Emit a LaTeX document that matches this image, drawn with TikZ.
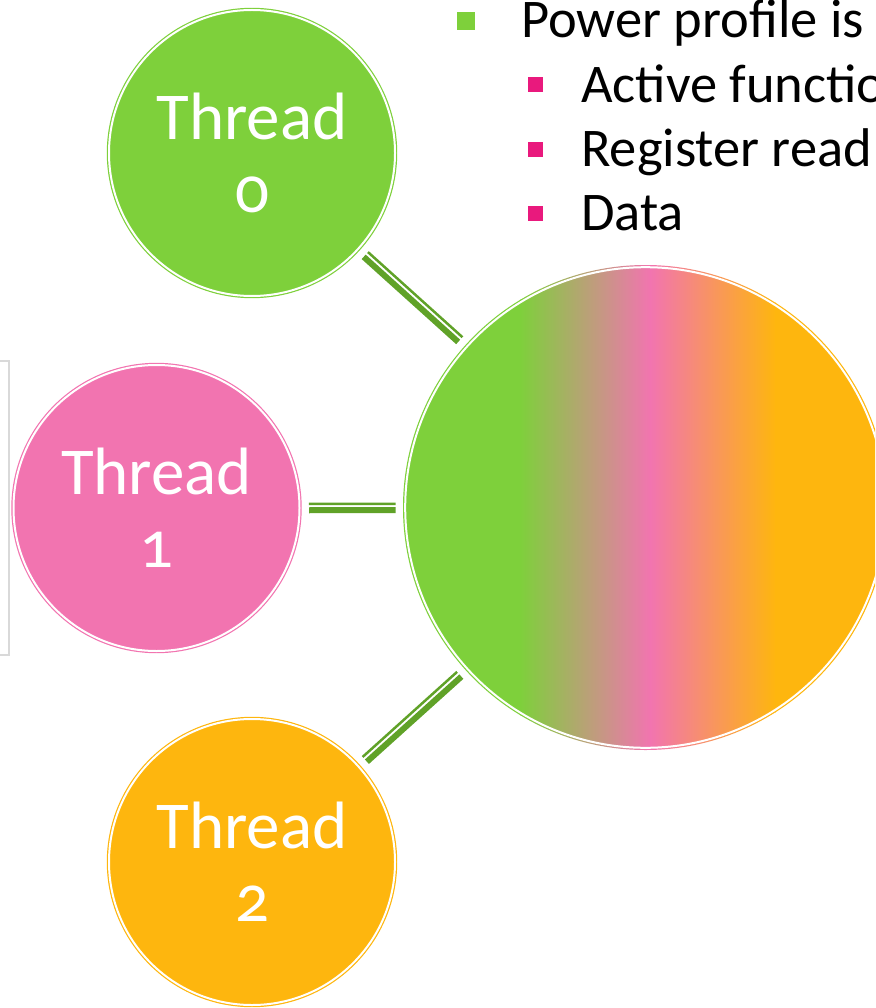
\documentclass[tikz,border=0pt]{standalone}
\usepackage{fontspec}
\setmainfont[Numbers=OldStyle]{Carlito}
\usetikzlibrary{calc}
\definecolor{tgreen}{RGB}{126,208,59}
\definecolor{tpink}{RGB}{242,116,176}
\definecolor{torange}{RGB}{254,182,14}
\definecolor{cgreen}{RGB}{96,162,40}
\definecolor{bpink}{RGB}{233,25,125}
\definecolor{boxgray}{RGB}{217,217,217}
\begin{document}
\begin{tikzpicture}[x=1pt,y=-1pt,
  threadc/.style={circle, inner sep=0pt, minimum size=286pt, fill=#1, draw=#1,
    line width=1.2pt, double=white, double distance=2pt, text=white, align=center,
    font=\fontsize{67}{73}\selectfont},
  thinline/.style={cgreen, line width=2.5pt},
  thickline/.style={cgreen, line width=6pt},
  bigtext/.style={font=\fontsize{54.5}{60}\selectfont, anchor=base west, inner sep=0pt},
]
\useasboundingbox (0,0) rectangle (875,1008);
\clip (0,0) rectangle (875,1008);

% light gray box at the left edge
\draw[boxgray, line width=1.5pt] (-5,361) -- (9,361) -- (9,655) -- (-5,655);

% big shaded circle
\coordinate (cc) at (645.5,507.5);
\begin{scope}
  \clip (cc) circle (242.5pt);
  \fill[tgreen] (400,260) rectangle (521,760);
  \shade[left color=tgreen, right color=tpink] (520,260) rectangle (651,760);
  \shade[left color=tpink, right color=torange] (650,260) rectangle (776,760);
  \fill[torange] (775,260) rectangle (895,760);
\end{scope}
\draw[white, line width=2pt] (cc) circle (240.3pt);
\node[circle, inner sep=0pt, minimum size=485pt] (core) at (cc) {};

% thread circles
\node[threadc=tgreen]  (t0) at (252,153)   {Thread\\0};
\node[threadc=tpink]   (t1) at (156.5,508) {Thread\\1};
\node[threadc=torange] (t2) at (252,862)   {Thread\\2};

% connectors (thin-thick compound lines)
\foreach \t in {t0, t1, t2} {
  \coordinate (a) at ($(\t.center)!152.5pt!(core.center)$);
  \coordinate (b) at ($(core.center)!250pt!(\t.center)$);
  \draw[thinline]  ($(a)!4pt!90:(b)$) -- ($(b)!4pt!-90:(a)$);
  \draw[thickline] ($(a)!2.4pt!-90:(b)$) -- ($(b)!2.4pt!90:(a)$);
}

% bullet list
\fill[tgreen] (457,12) rectangle (475,30);
\fill[bpink] (528,77.5) rectangle (542.5,92.5);
\fill[bpink] (528,142) rectangle (542.5,157);
\fill[bpink] (528,206) rectangle (542.5,221);
\node[bigtext] (l0) at (521,38)  {Power profile is};
\node[bigtext] (l1) at (581,103) {Active functio};
\node[bigtext] (l2) at (581,167) {Register read};
\node[bigtext] (l3) at (581,231) {Data};
\end{tikzpicture}
\end{document}
